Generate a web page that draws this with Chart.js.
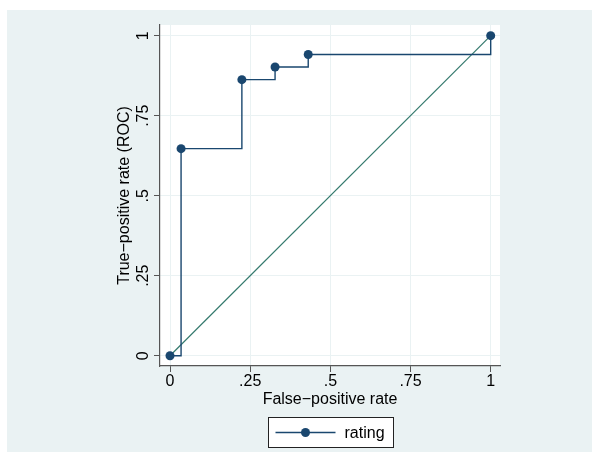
<!DOCTYPE html>
<html>
<head>
<meta charset="utf-8">
<script src="https://cdn.jsdelivr.net/npm/chart.js@4"></script>
<style>
  html, body { margin: 0; padding: 0; background: #fff; }
  #wrap { width: 600px; height: 462px; }
</style>
</head>
<body>
<div id="wrap"><canvas id="rocChart" width="600" height="462"></canvas></div>
<script>
// ROC points
const fpr = [0, 0.0345, 0.2241, 0.3276, 0.431, 1];
const tpr = [0, 0.6471, 0.8627, 0.902, 0.9412, 1];
const refX = [0, 1];
const refY = [0, 1];
const tickValues = [0, 0.25, 0.5, 0.75, 1];
const tickLabels = ["0", ".25", ".5", ".75", "1"];
const seriesName = "rating";

const navy = "#1a476f";
const teal = "#357a6e";
const bgBlue = "#eaf2f3";

Chart.defaults.font.family = "'Liberation Sans', Arial, sans-serif";
Chart.defaults.font.size = 16;
Chart.defaults.color = "#000";

function fixedTicks(scale) {
  scale.ticks = tickValues.map((v) => ({ value: v }));
}

function tickText(value) {
  const i = tickValues.indexOf(value);
  return i >= 0 ? tickLabels[i] : "";
}

const backdrop = {
  id: "backdrop",
  beforeDraw(chart) {
    const { ctx, chartArea: a } = chart;
    ctx.save();
    ctx.fillStyle = "#fff";
    ctx.fillRect(0, 0, chart.width, chart.height);
    ctx.fillStyle = bgBlue;
    ctx.fillRect(7, 10, 585, 442);
    ctx.fillStyle = "#fff";
    ctx.fillRect(a.left, a.top, a.right - a.left, a.bottom - a.top);
    ctx.restore();
  },
};

// legend drawn by hand: line with a dot, in a framed box
const boxLegend = {
  id: "boxLegend",
  afterDraw(chart) {
    const { ctx, chartArea: a } = chart;
    const cx = (a.left + a.right) / 2;
    const w = 125, h = 30;
    const x0 = Math.round(cx - w / 2) + 0.5;
    const y0 = 417.5;
    ctx.save();
    ctx.fillStyle = "#fff";
    ctx.fillRect(x0, y0, w, h);
    ctx.strokeStyle = "#222";
    ctx.lineWidth = 1;
    ctx.strokeRect(x0, y0, w, h);
    const ly = y0 + h / 2;
    ctx.strokeStyle = navy;
    ctx.lineWidth = 1.5;
    ctx.beginPath();
    ctx.moveTo(x0 + 7, ly);
    ctx.lineTo(x0 + 67, ly);
    ctx.stroke();
    ctx.fillStyle = navy;
    ctx.beginPath();
    ctx.arc(x0 + 37, ly, 4.5, 0, Math.PI * 2);
    ctx.fill();
    ctx.fillStyle = "#000";
    ctx.font = "16px 'Liberation Sans', Arial, sans-serif";
    ctx.textBaseline = "middle";
    ctx.fillText(chart.data.datasets[0].label, x0 + 76, ly + 1);
    ctx.restore();
  },
};

new Chart(document.getElementById("rocChart"), {
  type: "scatter",
  data: {
    datasets: [
      {
        label: seriesName,
        data: fpr.map((x, i) => ({ x: x, y: tpr[i] })),
        showLine: true,
        stepped: true,
        borderColor: navy,
        borderWidth: 1.4,
        backgroundColor: navy,
        pointRadius: 4.5,
        pointBorderWidth: 0,
      },
      {
        label: "reference",
        data: refX.map((x, i) => ({ x: x, y: refY[i] })),
        showLine: true,
        borderColor: teal,
        borderWidth: 1.2,
        pointRadius: 0,
      },
    ],
  },
  options: {
    responsive: false,
    animation: false,
    layout: { padding: { left: 0, right: 100, top: 25, bottom: 51 } },
    plugins: {
      legend: { display: false },
      tooltip: { enabled: false },
    },
    scales: {
      x: {
        type: "linear",
        min: -0.0312,
        max: 1.029,
        afterBuildTicks: fixedTicks,
        afterFit: (s) => { s.height = 45; },
        ticks: { callback: tickText, padding: 0, maxRotation: 0 },
        grid: { color: bgBlue, tickColor: "#555", tickLength: 6, lineWidth: 1 },
        border: { color: "#555", width: 1.2 },
        title: { display: true, text: "False\u2212positive rate", padding: { top: 2, bottom: 2 } },
      },
      y: {
        type: "linear",
        min: -0.032,
        max: 1.0334,
        afterBuildTicks: fixedTicks,
        afterFit: (s) => { s.width = 160; },
        ticks: { callback: tickText, padding: -1, minRotation: 90, maxRotation: 90, crossAlign: "center" },
        grid: { color: bgBlue, tickColor: "#555", tickLength: 6, lineWidth: 1 },
        border: { color: "#555", width: 1.2 },
        title: { display: true, text: "True\u2212positive rate (ROC)", padding: { top: 115, bottom: 0 } },
      },
    },
  },
  plugins: [backdrop, boxLegend],
});
</script>
</body>
</html>
